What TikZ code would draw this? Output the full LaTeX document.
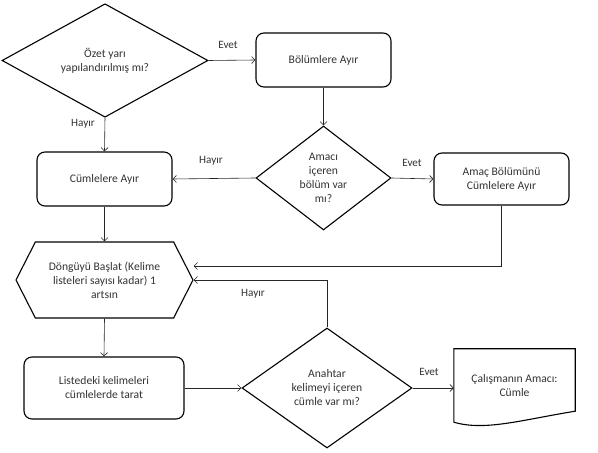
\documentclass[tikz,border=0pt]{standalone}
\usepackage{fontspec}
\setmainfont{Carlito}
\usetikzlibrary{arrows.meta,calc,shapes.geometric,shapes.symbols}

\begin{document}
\begin{tikzpicture}[
  x=1pt, y=1pt,
  font=\fontsize{11.6}{14}\selectfont,
  textcol/.style={text=black!80},
  box/.style={draw, line width=1.1pt, rounded corners=8pt, align=center, textcol},
  decision/.style={diamond, draw, line width=1.1pt, align=center, inner sep=0pt, textcol},
  loopstart/.style={signal, signal to=west and east, signal pointer angle=126,
    draw, line width=1.1pt, align=center, inner sep=2pt, textcol},
  arr/.style={-{Straight Barb[length=3.5pt,width=7pt]}, line width=0.6pt, draw=black!85},
  note/.style={font=\fontsize{11.2}{13}\selectfont, textcol},
]
  \useasboundingbox (0,0) rectangle (598,453);

  % ----- top row -----
  \node[decision, minimum width=206, minimum height=101] (ozet) at (105,392.5)
    {Özet yarı\\yapılandırılmış mı?};
  \node[box, minimum width=135, minimum height=54] (bolum) at (323.5,393)
    {Bölümlere Ayır};

  % ----- middle row -----
  \node[decision, minimum width=135, minimum height=104] (amac) at (323.5,275)
    {Amacı\\içeren\\bölüm var\\mı?};
  \node[box, minimum width=135, minimum height=54] (cumle) at (104.5,274)
    {Cümlelere Ayır};
  \node[box, minimum width=135, minimum height=52] (amacbol) at (501.5,274)
    {Amaç Bölümünü\\Cümlelere Ayır};

  % ----- loop -----
  \node[loopstart, minimum width=177, minimum height=76] (dongu) at (104.5,173)
    {Döngüyü Başlat (Kelime\\listeleri sayısı kadar) 1\\artsın};

  % ----- bottom row -----
  \node[box, minimum width=160, minimum height=62] (tarat) at (104,65)
    {Listedeki kelimeleri\\cümlelerde tarat};
  \node[decision, minimum width=170, minimum height=120] (anahtar) at (327,65)
    {Anahtar\\kelimeyi içeren\\cümle var mı?};
  \node[minimum width=121, minimum height=73, align=center, textcol] (sonuc) at (514.5,67.5)
    {Çalışmanın Amacı:\\Cümle};
  \draw[line width=1.1pt] (sonuc.south west) -- (sonuc.north west) -- (sonuc.north east)
    -- ($(sonuc.south east)+(0,11)$)
    .. controls ($(sonuc.south east)+(-55,2)$) and ($(sonuc.south west)+(31,-9)$) .. (sonuc.south west);

  % ----- connectors -----
  \draw[arr] (ozet.east) -- (bolum.west);
  \draw[arr] (ozet.south) -- (cumle.north);
  \draw[arr] (bolum.south) -- (amac.north);
  \draw[arr] (amac.west) -- (cumle.east);
  \draw[arr] (amac.east) -- (amacbol.west);
  \draw[arr] (cumle.south) -- (dongu.north);
  \draw[arr] (amacbol.south) |- ($(dongu.east)+(0,14)$);
  \draw[arr] (anahtar.north) |- (dongu.east);
  \draw[arr] (dongu.south) -- (tarat.north);
  \draw[arr] (tarat.east) -- (anahtar.west);
  \draw[arr] (anahtar.east) -- (anahtar.east -| sonuc.west);

  \node[note] at (228,408) {Evet};
  \node[note] at (83,329) {Hayır};
  \node[note] at (211,292) {Hayır};
  \node[note] at (412,290) {Evet};
  \node[note] at (253,159) {Hayır};
  \node[note] at (429,81) {Evet};
\end{tikzpicture}
\end{document}
